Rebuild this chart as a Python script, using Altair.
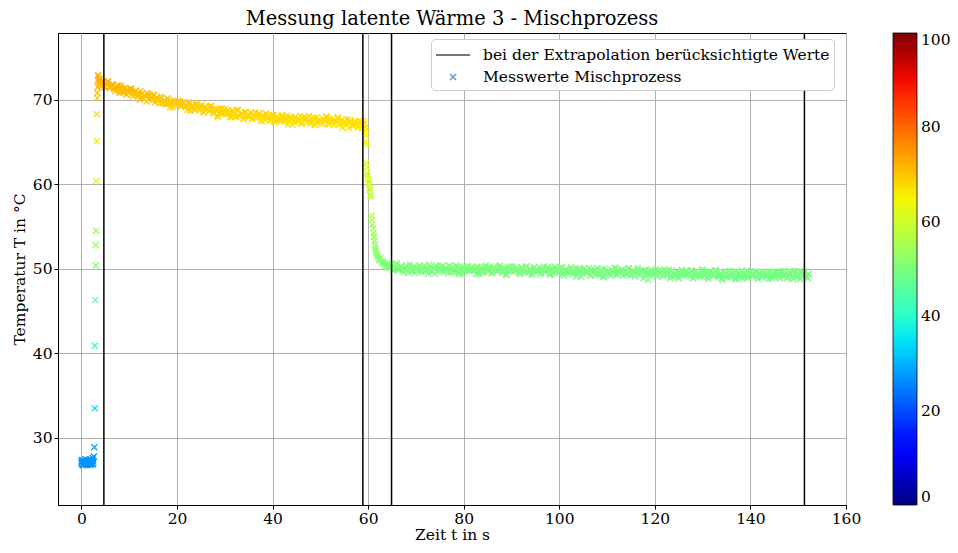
import altair as alt
import pandas as pd

pre_t = [0.0, 0.1, 0.2, 0.3, 0.4, 0.5, 0.6, 0.7, 0.8, 0.9, 1.0, 1.1, 1.2, 1.3, 1.4, 1.5, 1.6, 1.7,
         1.8, 1.9, 2.0, 2.1, 2.2, 2.3, 2.4, 2.5, 2.6, 0.05, 0.35, 0.65, 0.95, 1.25, 1.55, 1.85, 2.15, 2.45]
pre_T = [27.1, 26.9, 27.4, 27.0, 26.8, 27.3, 27.2, 26.9, 27.5, 27.0, 27.2, 26.8, 27.3, 27.1, 26.9, 27.4, 27.0, 27.2,
         26.8, 27.5, 27.1, 26.9, 27.3, 27.0, 27.6, 27.2, 27.8, 27.3, 26.8, 27.1, 27.4, 26.9, 27.2, 27.0, 27.3, 26.9]

rise_t = [2.7, 2.8, 2.8, 2.9, 3.0, 3.0, 3.1, 3.1, 3.2, 3.2, 3.3, 3.3, 3.4, 3.4, 3.5, 3.6, 3.7, 3.8, 3.9, 4.0, 4.1, 4.2, 4.3]
rise_T = [28.9, 33.5, 40.9, 46.3, 50.4, 52.8, 54.5, 60.4, 65.1, 68.3, 70.2, 70.8, 71.5, 72.3, 72.9, 72.6, 72.1, 71.8,
          72.4, 71.9, 72.2, 71.6, 72.0]

decay_t = [4.6, 5.0, 5.4, 5.8, 6.2, 6.6, 7.0, 7.4, 7.8, 8.2, 8.6, 9.0, 9.4, 9.8, 10.2, 10.6, 11.0, 11.4, 11.8, 12.2,
           12.6, 13.0, 13.4, 13.8, 14.2, 14.6, 15.0, 15.4, 15.8, 16.2, 16.6, 17.0, 17.4, 17.8, 18.2, 18.6, 19.0, 19.4,
           19.8, 20.2, 20.6, 21.0, 21.4, 21.8, 22.2, 22.6, 23.0, 23.4, 23.8, 24.2, 24.6, 25.0, 25.4, 25.8, 26.2, 26.6,
           27.0, 27.4, 27.8, 28.2, 28.6, 29.0, 29.4, 29.8, 30.2, 30.6, 31.0, 31.4, 31.8, 32.2, 32.6, 33.0, 33.4, 33.8,
           34.2, 34.6, 35.0, 35.4, 35.8, 36.2, 36.6, 37.0, 37.4, 37.8, 38.2, 38.6, 39.0, 39.4, 39.8, 40.2, 40.6, 41.0,
           41.4, 41.8, 42.2, 42.6, 43.0, 43.4, 43.8, 44.2, 44.6, 45.0, 45.4, 45.8, 46.2, 46.6, 47.0, 47.4, 47.8, 48.2,
           48.6, 49.0, 49.4, 49.8, 50.2, 50.6, 51.0, 51.4, 51.8, 52.2, 52.6, 53.0, 53.4, 53.8, 54.2, 54.6, 55.0, 55.4,
           55.8, 56.2, 56.6, 57.0, 57.4, 57.8, 58.2, 58.6, 59.0, 59.4]
decay_T = [72.2, 71.5, 72.1, 71.5, 71.6, 71.8, 71.0, 71.5, 71.1, 71.7,
           70.9, 71.3, 70.6, 71.1, 71.3, 70.7, 70.8, 71.1, 70.5, 70.0,
           70.7, 70.2, 70.5, 70.8, 70.1, 70.3, 70.5, 69.7, 70.3, 69.9,
           70.4, 69.6, 69.9, 69.5, 70.0, 69.1, 69.6, 69.8, 69.4, 69.9,
           69.8, 69.3, 69.6, 69.3, 68.8, 69.5, 69.0, 69.3, 68.8, 69.6,
           68.9, 69.2, 68.6, 69.2, 68.9, 68.6, 69.2, 68.9, 68.4, 68.9,
           68.0, 68.5, 69.0, 68.5, 68.3, 68.8, 68.5, 67.9, 68.6, 68.0,
           68.8, 68.1, 68.3, 67.8, 68.5, 68.1, 68.0, 68.5, 67.8, 68.2,
           67.8, 68.3, 68.0, 67.5, 68.1, 68.4, 67.8, 67.5, 67.9, 68.2,
           67.3, 68.0, 67.7, 67.5, 68.0, 67.6, 68.1, 67.4, 67.8, 67.0,
           67.8, 67.6, 67.4, 68.1, 67.2, 67.7, 67.9, 67.5, 67.2, 67.7,
           67.9, 67.0, 67.5, 67.6, 67.3, 67.8, 67.4, 67.9, 67.1, 67.4,
           67.7, 67.2, 67.4, 67.8, 67.2, 66.7, 67.5, 67.0, 67.3, 67.6,
           67.0, 67.2, 67.4, 66.7, 67.3, 67.0, 67.5, 66.7]

decay2_t = [4.8, 5.2, 5.6, 6.0, 6.4, 6.8, 7.2, 7.6, 8.0, 8.4, 8.8, 9.2, 9.6, 10.0, 10.4, 10.8, 11.2, 11.6, 12.0,
            12.4, 12.8, 13.2, 13.6, 14.0, 14.4, 14.8, 15.2, 15.6, 16.0, 16.4, 16.8, 17.2, 17.6, 18.0, 18.4, 18.8,
            19.2, 19.6, 20.0, 20.4, 20.8, 21.2, 21.6, 22.0, 22.4, 22.8, 23.2, 23.6, 24.0, 24.4, 24.8, 25.2, 25.6,
            26.0, 26.4, 26.8, 27.2, 27.6, 28.0, 28.4, 28.8, 29.2, 29.6, 30.0, 30.4, 30.8, 31.2, 31.6, 32.0, 32.4,
            32.8, 33.2, 33.6, 34.0, 34.4, 34.8, 35.2, 35.6, 36.0, 36.4, 36.8, 37.2, 37.6, 38.0, 38.4, 38.8, 39.2,
            39.6, 40.0, 40.4, 40.8, 41.2, 41.6, 42.0, 42.4, 42.8, 43.2, 43.6, 44.0, 44.4, 44.8, 45.2, 45.6, 46.0,
            46.4, 46.8, 47.2, 47.6, 48.0, 48.4, 48.8, 49.2, 49.6, 50.0, 50.4, 50.8, 51.2, 51.6, 52.0, 52.4, 52.8,
            53.2, 53.6, 54.0, 54.4, 54.8, 55.2, 55.6, 56.0, 56.4, 56.8, 57.2, 57.6, 58.0, 58.4, 58.8, 59.2]
decay2_T = [71.5, 71.9, 72.2, 71.4, 71.8, 71.3, 71.4, 71.7, 70.8, 71.4,
            70.9, 71.4, 71.2, 70.8, 71.3, 70.4, 71.0, 70.7, 70.5, 71.0,
            70.2, 70.5, 69.8, 70.6, 70.5, 70.0, 70.6, 70.0, 70.0, 69.6,
            70.2, 69.9, 69.5, 70.2, 69.5, 69.8, 69.1, 69.9, 69.5, 69.4,
            69.2, 69.7, 69.2, 69.3, 69.7, 68.7, 69.4, 68.8, 69.4, 69.2,
            68.8, 69.4, 68.5, 69.1, 68.9, 68.7, 69.3, 68.4, 68.8, 68.1,
            68.9, 68.8, 68.3, 68.9, 68.4, 68.4, 68.0, 68.7, 68.4, 68.0,
            68.8, 68.1, 68.4, 67.7, 68.6, 68.1, 68.0, 67.7, 68.1, 68.5,
            68.0, 68.4, 67.5, 68.1, 67.6, 68.2, 68.0, 67.6, 68.2, 67.4,
            68.0, 67.8, 67.6, 68.2, 67.4, 67.8, 67.1, 68.0, 67.8, 67.4,
            68.0, 67.5, 67.6, 67.2, 67.9, 67.7, 67.3, 68.1, 67.3, 67.7,
            67.0, 67.9, 67.5, 67.4, 67.1, 67.6, 68.0, 67.2, 67.7, 67.3,
            67.0, 67.5, 67.9, 67.1, 67.6, 67.2, 67.3, 67.7, 66.7, 67.4,
            66.9, 67.5, 67.2, 66.9, 67.5, 66.6, 67.2]

drop_t = [59.4, 59.5, 59.5, 59.6, 59.6, 59.7, 59.8, 59.9, 60.0, 60.1, 60.2, 60.3, 60.4, 60.5, 60.6, 60.7, 60.8, 60.9,
          61.0, 61.1, 61.2, 61.3, 61.4, 61.5, 61.6, 61.7, 61.8, 62.0, 62.2, 62.4, 62.6, 62.8, 63.0, 63.2, 63.4, 63.6,
          63.8, 64.0, 64.2, 64.4, 64.6]
drop_T = [66.3, 65.8, 65.0, 64.7, 62.5, 62.0, 61.3, 61.0, 60.6, 60.2, 60.0, 59.6, 59.3, 58.8, 58.5, 56.3, 55.8, 55.2,
          54.8, 54.2, 53.8, 53.3, 52.9, 52.5, 52.2, 51.9, 51.6, 51.4, 51.2, 51.0, 51.3, 50.8, 50.6, 50.9, 50.5, 50.3,
          50.7, 50.4, 50.2, 50.5, 50.1]

plateau_t = [65.0, 65.4, 65.8, 66.2, 66.6, 67.0, 67.4, 67.8, 68.2, 68.6, 69.0, 69.4, 69.8, 70.2, 70.6, 71.0, 71.4,
             71.8, 72.2, 72.6, 73.0, 73.4, 73.8, 74.2, 74.6, 75.0, 75.4, 75.8, 76.2, 76.6, 77.0, 77.4, 77.8, 78.2,
             78.6, 79.0, 79.4, 79.8, 80.2, 80.6, 81.0, 81.4, 81.8, 82.2, 82.6, 83.0, 83.4, 83.8, 84.2, 84.6, 85.0,
             85.4, 85.8, 86.2, 86.6, 87.0, 87.4, 87.8, 88.2, 88.6, 89.0, 89.4, 89.8, 90.2, 90.6, 91.0, 91.4, 91.8,
             92.2, 92.6, 93.0, 93.4, 93.8, 94.2, 94.6, 95.0, 95.4, 95.8, 96.2, 96.6, 97.0, 97.4, 97.8, 98.2, 98.6,
             99.0, 99.4, 99.8, 100.2, 100.6, 101.0, 101.4, 101.8, 102.2, 102.6, 103.0, 103.4, 103.8, 104.2, 104.6,
             105.0, 105.4, 105.8, 106.2, 106.6, 107.0, 107.4, 107.8, 108.2, 108.6, 109.0, 109.4, 109.8, 110.2,
             110.6, 111.0, 111.4, 111.8, 112.2, 112.6, 113.0, 113.4, 113.8, 114.2, 114.6, 115.0, 115.4, 115.8,
             116.2, 116.6, 117.0, 117.4, 117.8, 118.2, 118.6, 119.0, 119.4, 119.8, 120.2, 120.6, 121.0, 121.4,
             121.8, 122.2, 122.6, 123.0, 123.4, 123.8, 124.2, 124.6, 125.0, 125.4, 125.8, 126.2, 126.6, 127.0,
             127.4, 127.8, 128.2, 128.6, 129.0, 129.4, 129.8, 130.2, 130.6, 131.0, 131.4, 131.8, 132.2, 132.6,
             133.0, 133.4, 133.8, 134.2, 134.6, 135.0, 135.4, 135.8, 136.2, 136.6, 137.0, 137.4, 137.8, 138.2,
             138.6, 139.0, 139.4, 139.8, 140.2, 140.6, 141.0, 141.4, 141.8, 142.2, 142.6, 143.0, 143.4, 143.8,
             144.2, 144.6, 145.0, 145.4, 145.8, 146.2, 146.6, 147.0, 147.4, 147.8, 148.2, 148.6, 149.0, 149.4,
             149.8, 150.2, 150.6, 151.0, 151.4, 151.8, 152.2]
plateau_T = [50.5, 49.9, 50.6, 50.0, 50.0, 50.3, 49.6, 50.1, 49.8, 50.5,
             49.7, 50.2, 49.5, 50.1, 50.3, 49.8, 50.0, 50.4, 49.9, 49.4,
             50.2, 49.7, 50.1, 50.4, 49.8, 50.0, 50.3, 49.6, 50.1, 49.8,
             50.4, 49.6, 50.0, 49.7, 50.2, 49.4, 49.9, 50.1, 49.8, 50.3,
             50.3, 49.8, 50.1, 49.9, 49.4, 50.2, 49.7, 50.0, 49.6, 50.4,
             49.8, 50.1, 49.5, 50.2, 49.9, 49.7, 50.3, 50.0, 49.6, 50.1,
             49.3, 49.8, 50.3, 49.9, 49.7, 50.2, 50.0, 49.4, 50.1, 49.6,
             50.3, 49.6, 49.9, 49.4, 50.1, 49.8, 49.7, 50.2, 49.5, 50.0,
             49.6, 50.1, 49.8, 49.4, 50.0, 50.3, 49.7, 49.5, 49.9, 50.2,
             49.2, 49.9, 49.7, 49.5, 50.0, 49.6, 50.1, 49.4, 49.8, 49.1,
             49.9, 49.7, 49.5, 50.1, 49.2, 49.7, 49.9, 49.5, 49.3, 49.8,
             50.0, 49.1, 49.6, 49.7, 49.4, 49.9, 49.5, 50.1, 49.3, 49.6,
             49.9, 49.2, 49.7, 49.4, 50.1, 49.3, 49.8, 49.1, 49.7, 49.9,
             49.3, 49.5, 49.9, 49.4, 48.7, 49.7, 49.2, 49.6, 49.9, 49.3,
             49.5, 49.8, 49.1, 49.7, 49.4, 49.9, 49.1, 49.5, 49.2, 49.7,
             48.9, 49.4, 49.6, 49.3, 49.8, 49.6, 49.1, 49.8, 49.3, 49.4,
             49.5, 49.1, 49.9, 49.3, 49.6, 49.0, 49.7, 49.4, 49.2, 49.8,
             49.4, 49.0, 49.5, 48.7, 49.2, 49.7, 49.3, 49.1, 49.6, 49.4,
             48.8, 49.5, 49.0, 49.8, 49.1, 49.4, 48.9, 49.6, 49.3, 49.2,
             49.7, 49.0, 49.5, 49.7, 49.2, 49.5, 49.3, 48.8, 49.6, 49.1,
             49.1, 49.6, 49.3, 48.9, 49.5, 49.8, 49.2, 49.0, 49.4, 49.7,
             48.8, 49.5, 49.3, 49.1, 49.6, 49.2, 49.7, 49.0, 49.4]

plateau2_t = [65.2, 65.6, 66.0, 66.4, 66.8, 67.2, 67.6, 68.0, 68.4, 68.8, 69.2, 69.6, 70.0, 70.4, 70.8, 71.2,
              71.6, 72.0, 72.4, 72.8, 73.2, 73.6, 74.0, 74.4, 74.8, 75.2, 75.6, 76.0, 76.4, 76.8, 77.2, 77.6,
              78.0, 78.4, 78.8, 79.2, 79.6, 80.0, 80.4, 80.8, 81.2, 81.6, 82.0, 82.4, 82.8, 83.2, 83.6, 84.0,
              84.4, 84.8, 85.2, 85.6, 86.0, 86.4, 86.8, 87.2, 87.6, 88.0, 88.4, 88.8, 89.2, 89.6, 90.0, 90.4,
              90.8, 91.2, 91.6, 92.0, 92.4, 92.8, 93.2, 93.6, 94.0, 94.4, 94.8, 95.2, 95.6, 96.0, 96.4, 96.8,
              97.2, 97.6, 98.0, 98.4, 98.8, 99.2, 99.6, 100.0, 100.4, 100.8, 101.2, 101.6, 102.0, 102.4, 102.8,
              103.2, 103.6, 104.0, 104.4, 104.8, 105.2, 105.6, 106.0, 106.4, 106.8, 107.2, 107.6, 108.0, 108.4,
              108.8, 109.2, 109.6, 110.0, 110.4, 110.8, 111.2, 111.6, 112.0, 112.4, 112.8, 113.2, 113.6, 114.0,
              114.4, 114.8, 115.2, 115.6, 116.0, 116.4, 116.8, 117.2, 117.6, 118.0, 118.4, 118.8, 119.2, 119.6,
              120.0, 120.4, 120.8, 121.2, 121.6, 122.0, 122.4, 122.8, 123.2, 123.6, 124.0, 124.4, 124.8, 125.2,
              125.6, 126.0, 126.4, 126.8, 127.2, 127.6, 128.0, 128.4, 128.8, 129.2, 129.6, 130.0, 130.4, 130.8,
              131.2, 131.6, 132.0, 132.4, 132.8, 133.2, 133.6, 134.0, 134.4, 134.8, 135.2, 135.6, 136.0, 136.4,
              136.8, 137.2, 137.6, 138.0, 138.4, 138.8, 139.2, 139.6, 140.0, 140.4, 140.8, 141.2, 141.6, 142.0,
              142.4, 142.8, 143.2, 143.6, 144.0, 144.4, 144.8, 145.2, 145.6, 146.0, 146.4, 146.8, 147.2, 147.6,
              148.0, 148.4, 148.8, 149.2, 149.6, 150.0, 150.4, 150.8, 151.2, 151.6, 152.0]
plateau2_T = [49.8, 50.3, 50.6, 49.9, 50.3, 49.9, 50.0, 50.4, 49.5, 50.2,
              49.7, 50.3, 50.1, 49.8, 50.4, 49.6, 50.2, 50.0, 49.9, 50.5,
              49.7, 50.1, 49.4, 50.3, 50.2, 49.8, 50.4, 49.9, 49.9, 49.5,
              50.2, 50.0, 49.6, 50.4, 49.7, 50.1, 49.4, 50.3, 49.9, 49.8,
              49.7, 50.2, 49.8, 49.9, 50.3, 49.4, 50.1, 49.6, 50.2, 50.0,
              49.7, 50.3, 49.5, 50.1, 49.9, 49.8, 50.4, 49.6, 50.0, 49.3,
              50.2, 50.1, 49.7, 50.3, 49.8, 49.9, 49.5, 50.2, 50.0, 49.6,
              50.3, 49.6, 50.0, 49.3, 50.2, 49.8, 49.7, 49.4, 49.9, 50.3,
              49.8, 50.2, 49.3, 50.0, 49.5, 50.1, 49.9, 49.6, 50.2, 49.4,
              49.9, 49.7, 49.6, 50.2, 49.4, 49.8, 49.1, 50.0, 49.9, 49.5,
              50.1, 49.6, 49.7, 49.2, 49.9, 49.7, 49.3, 50.1, 49.4, 49.8,
              49.1, 50.0, 49.6, 49.5, 49.2, 49.7, 50.1, 49.4, 49.9, 49.5,
              49.9, 49.7, 49.4, 50.0, 49.2, 49.8, 49.6, 49.5, 50.1, 49.3,
              49.6, 48.9, 49.8, 49.7, 49.3, 49.9, 49.4, 49.5, 49.1, 49.8,
              49.6, 49.2, 50.0, 49.3, 49.7, 48.9, 49.8, 49.4, 49.3, 49.0,
              49.5, 49.9, 49.2, 49.7, 49.3, 49.4, 49.8, 48.9, 49.6, 49.1,
              49.4, 49.3, 49.9, 49.1, 49.5, 48.8, 49.7, 49.6, 49.2, 49.8,
              49.2, 49.3, 48.9, 49.6, 49.4, 49.0, 49.8, 49.1, 49.5, 48.8,
              49.7, 49.3, 49.2, 48.9, 49.4, 49.8, 49.1, 49.6, 49.2, 49.3,
              49.7, 48.8, 49.5, 49.0, 49.6, 49.4, 49.1, 49.7, 48.9, 49.5,
              49.6, 49.5, 49.1, 49.7, 49.2, 49.3, 48.9, 49.6, 49.4, 49.0,
              49.8, 49.1, 49.5, 48.8, 49.7, 49.3, 49.2, 48.9]

# vertical lines: limits of the values used for the extrapolation
rule_x = [4.7, 58.9, 64.9, 151.3]

legend_labels = ["bei der Extrapolation berücksichtigte Werte", "Messwerte Mischprozess"]
x_ticks = [0, 20, 40, 60, 80, 100, 120, 140, 160]
y_ticks = [30, 40, 50, 60, 70]
cbar_ticks = [0, 20, 40, 60, 80, 100]

# matplotlib "jet" colormap (vmin 0, vmax 100)
jet_stops = [0, 11, 12.5, 34, 35, 37.5, 64, 65, 66, 89, 91, 100]
jet_colors = ["#000080", "#0000ff", "#0000ff", "#00dbff", "#00e5f7", "#14ffe2",
              "#eeff08", "#f7f500", "#ffec00", "#ff1300", "#e80000", "#800000"]

df = pd.DataFrame({
    "t": pre_t + rise_t + decay_t + decay2_t + drop_t + plateau_t + plateau2_t,
    "T": pre_T + rise_T + decay_T + decay2_T + drop_T + plateau_T + plateau2_T,
})
rules = pd.DataFrame({"x": rule_x})
leg = pd.DataFrame({"label": legend_labels})

FONT = "DejaVu Serif"
FS = 15.5
W, H = 788, 472

xscale = alt.Scale(domain=[-4.9, 160], nice=False, zero=False)
yscale = alt.Scale(domain=[22.07, 77.9], nice=False, zero=False)

points = alt.Chart(df).mark_point(
    shape="M-1,-1L1,1M-1,1L1,-1", filled=False, size=36, strokeWidth=1.3, opacity=1
).encode(
    x=alt.X("t:Q", scale=xscale,
            axis=alt.Axis(values=x_ticks, title="Zeit t in s", format="d")),
    y=alt.Y("T:Q", scale=yscale,
            axis=alt.Axis(values=y_ticks, title="Temperatur T in °C", format="d")),
    color=alt.Color("T:Q",
                    scale=alt.Scale(domain=jet_stops, range=jet_colors, interpolate="rgb"),
                    legend=alt.Legend(title=None, orient="right", direction="vertical",
                                      gradientLength=H, gradientThickness=24,
                                      values=cbar_ticks, format="d", offset=47, padding=0,
                                      labelFontSize=FS, labelOffset=4, labelBaseline="middle",
                                      gradientStrokeColor="#000000", gradientStrokeWidth=0.8)),
)

vlines = alt.Chart(rules).mark_rule(color="black", strokeWidth=1.5).encode(
    x=alt.X("x:Q", scale=xscale)
)

sym_legend = alt.Legend(title=None, orient="none", legendX=373, legendY=6,
                        symbolSize=484, symbolStrokeWidth=1.5, labelOffset=24,
                        padding=4, fillColor="white", strokeColor="#cccccc",
                        cornerRadius=4, labelFontSize=FS, rowPadding=1,
                        labelLimit=500)
legend_layer = alt.Chart(leg).mark_point(filled=False).encode(
    x=alt.value(0), y=alt.value(0),
    stroke=alt.Stroke("label:N",
                      scale=alt.Scale(domain=legend_labels, range=["#000000", "#1f77b4"]),
                      legend=sym_legend),
    shape=alt.Shape("label:N",
                    scale=alt.Scale(domain=legend_labels,
                                    range=["M-1,0L2.09,0",
                                           "M0.28,-0.27L0.82,0.27M0.28,0.27L0.82,-0.27"]),
                    legend=sym_legend),
).transform_filter("false")

chart = alt.layer(points, vlines, legend_layer).properties(
    width=W, height=H,
    title=alt.TitleParams("Messung latente Wärme 3 - Mischprozess", fontSize=19.5,
                          font=FONT, fontWeight="normal", offset=3, color="black"),
    padding={"left": 50, "top": 25, "right": 104, "bottom": 40},
    autosize=alt.AutoSizeParams(type="none"),
).configure(font=FONT).configure_view(
    stroke="black", strokeWidth=1
).configure_axis(
    labelFont=FONT, titleFont=FONT, labelFontSize=FS, titleFontSize=FS,
    titleFontWeight="normal", labelColor="black", titleColor="black",
    domainColor="black", tickColor="black", tickSize=4, labelPadding=2,
    gridColor="#b0b0b0", gridWidth=1, labelFlush=False,
).configure_axisX(titlePadding=1).configure_axisY(titlePadding=5).configure_legend(
    labelFont=FONT, labelColor="black"
)

chart.save("out.html", embed_options={"renderer": "svg", "actions": False})
